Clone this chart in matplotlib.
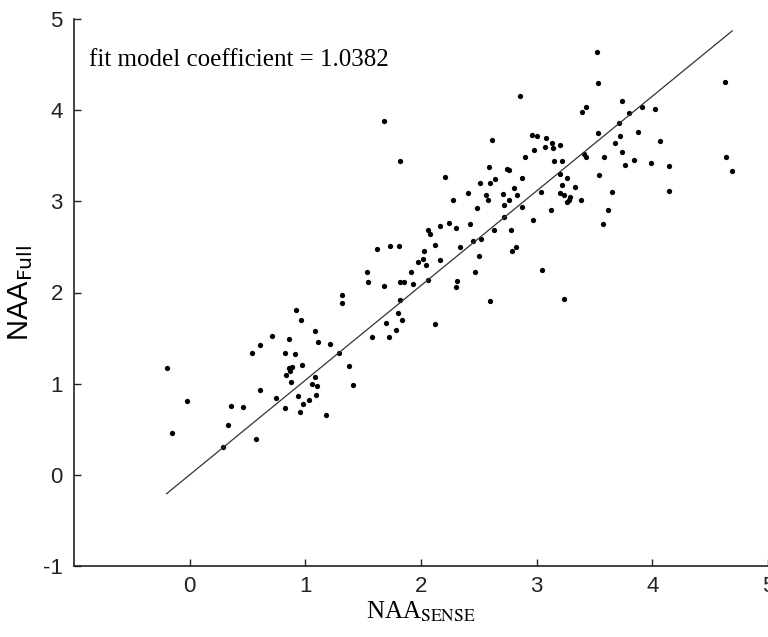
"""
NAA agreement scatter: NAA from SENSE vs NAA from full acquisition
with the fitted proportional model line.
"""

import numpy as np
import matplotlib
matplotlib.use('Agg')
import matplotlib.pyplot as plt

# Fit model coefficient (line through origin)
fit_coef = 1.0382

# NAA_SENSE values (x)
x_sense = np.array([
    -0.20, -0.155, -0.02, 0.29, 0.33, 0.36, 0.46, 0.54, 0.57, 0.61,
    0.61, 0.71, 0.75, 0.82, 0.82, 0.86, 0.83, 0.855, 0.87, 0.885,
    0.88, 0.91, 0.92, 0.96, 0.94, 0.95, 0.97, 0.98, 1.03, 1.06,
    1.08, 1.08, 1.09, 1.10, 1.11, 1.18, 1.21, 1.29, 1.32, 1.32,
    1.38, 1.41, 1.58, 1.70, 1.72, 1.78, 1.80, 1.84,
    1.53, 1.54, 1.62, 1.68, 1.68, 1.73, 1.81, 1.82, 1.82, 1.85,
    1.82, 1.91, 1.93, 1.97, 2.02, 2.03, 2.04, 2.06, 2.06, 2.08,
    2.12, 2.12, 2.16, 2.16, 2.21, 2.24, 2.28, 2.30, 2.30, 2.31,
    2.34, 2.41, 2.42, 2.45, 2.47, 2.48, 2.50, 2.51, 2.52, 2.56,
    2.58, 2.59, 2.60, 2.60, 2.61, 2.63, 2.64, 2.71, 2.72, 2.72,
    2.74, 2.76, 2.76, 2.78, 2.79, 2.80, 2.82, 2.83, 2.86, 2.87,
    2.87, 2.90, 2.96, 2.97, 2.98, 3.00, 3.04, 3.05, 3.07, 3.08,
    3.12, 3.13, 3.14, 3.15, 3.20, 3.20, 3.22, 3.22, 3.20, 3.24,
    3.26, 3.26, 3.28, 3.29, 3.24, 3.33, 3.38, 3.39, 3.41, 3.43,
    3.43, 3.52, 3.53, 3.53, 3.54, 3.57, 3.58, 3.62, 3.65, 3.68,
    3.71, 3.72, 3.74, 3.74, 3.76, 3.80, 3.84, 3.88, 3.91, 3.99,
    4.02, 4.07, 4.14, 4.14, 4.63, 4.64, 4.69,
])

# NAA_Full values (y), same order
y_full = np.array([
    1.17, 0.46, 0.81, 0.31, 0.55, 0.76, 0.74, 1.34, 0.39, 1.42,
    0.93, 1.52, 0.84, 0.73, 1.34, 1.49, 1.10, 1.17, 1.14, 1.18,
    1.02, 1.33, 1.81, 1.70, 0.86, 0.69, 1.20, 0.78, 0.82, 1.00,
    1.58, 1.07, 0.88, 0.97, 1.46, 0.66, 1.44, 1.34, 1.89, 1.97,
    1.19, 0.99, 1.51, 1.66, 1.51, 1.59, 1.77, 1.70,
    2.22, 2.11, 2.48, 2.07, 3.88, 2.51, 2.51, 3.44, 2.12, 2.12,
    1.92, 2.23, 2.09, 2.34, 2.37, 2.46, 2.30, 2.14, 2.69, 2.64,
    2.52, 1.65, 2.73, 2.36, 3.27, 2.76, 3.02, 2.71, 2.06, 2.13,
    2.50, 3.09, 2.75, 2.57, 2.22, 2.93, 2.40, 3.20, 2.59, 3.07,
    3.01, 3.38, 3.20, 1.91, 3.67, 2.69, 3.25, 3.08, 2.96, 2.83,
    3.35, 3.34, 3.01, 2.69, 2.46, 3.15, 2.50, 3.07, 4.15, 3.26,
    2.94, 3.49, 3.73, 2.79, 3.56, 3.72, 3.10, 2.25, 3.60, 3.69,
    2.91, 3.64, 3.59, 3.44, 3.62, 3.30, 3.44, 3.18, 3.09, 3.07,
    3.26, 2.99, 3.02, 3.05, 1.93, 3.16, 3.01, 3.98, 3.52, 4.04,
    3.49, 4.64, 4.30, 3.75, 3.29, 2.75, 3.49, 2.91, 3.10, 3.64,
    3.86, 3.72, 4.10, 3.54, 3.40, 3.97, 3.45, 3.76, 4.03, 3.42,
    4.01, 3.66, 3.39, 3.11, 4.31, 3.49, 3.33,
])

x_ticks = [0, 1, 2, 3, 4, 5]
y_ticks = [-1, 0, 1, 2, 3, 4, 5]

plt.rcParams['font.family'] = 'Liberation Sans'

fig = plt.figure(figsize=(7.68, 6.37), dpi=100)
ax = fig.add_axes([74/768, 71/637, 694/768, 547/637])

# scatter points
ax.plot(x_sense, y_full, 'o', color='black', markersize=3.8,
        markeredgewidth=0, clip_on=False)

# fit line y = coef * x over the data range
fit_x = np.array([x_sense.min(), x_sense.max()])
ax.plot(fit_x, fit_coef * fit_x, color='#333333', linewidth=0.9)

ax.text(-0.87, 4.48, f'fit model coefficient = {fit_coef:.4f}',
        fontsize=18, family='Liberation Serif', va='baseline', ha='left')

ax.set_xlim(-1, 5)
ax.set_ylim(-1, 5)
ax.set_xticks(x_ticks)
ax.set_yticks(y_ticks)
ax.set_xticklabels([str(t) for t in x_ticks])
ax.set_yticklabels([str(t) for t in y_ticks])

ax.spines['top'].set_visible(False)
ax.spines['right'].set_visible(False)
for side in ['left', 'bottom']:
    ax.spines[side].set_linewidth(1.2)
    ax.spines[side].set_color('#222222')

ax.tick_params(direction='in', length=5, width=1.0, labelsize=16,
               colors='#222222')
ax.tick_params(axis='x', pad=7)
ax.tick_params(axis='y', pad=8)

ax.set_xlabel(r'NAA$_{\mathrm{SENSE}}$', fontsize=18,
              family='Liberation Serif', math_fontfamily='stix', labelpad=2)
ax.set_ylabel(r'NAA$_{\mathrm{Full}}$', fontsize=21,
              family='Liberation Sans', math_fontfamily='dejavusans',
              labelpad=6)

plt.savefig('out.png', dpi=100)
